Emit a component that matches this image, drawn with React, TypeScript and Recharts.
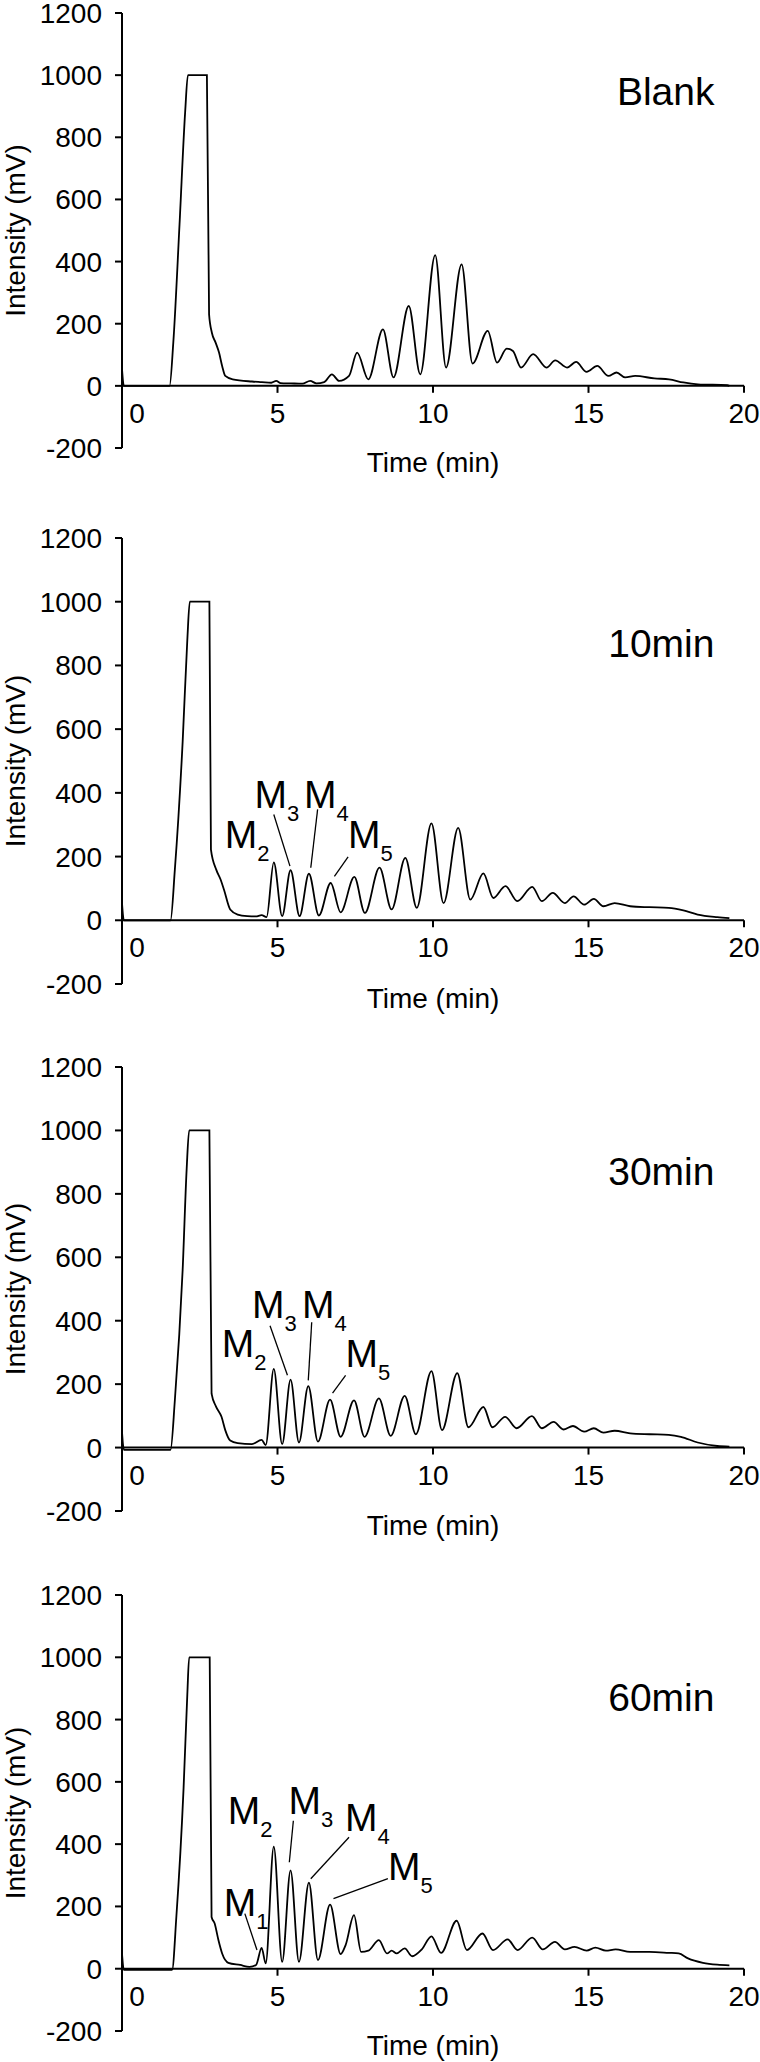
import React from "react";
import { LineChart, Line, XAxis, YAxis, ReferenceLine, ReferenceDot } from "recharts";

const FONT = '"Liberation Sans", Arial, Helvetica, sans-serif';

type Pt = [number, number]; // [time (min), intensity (mV)]

// chromatogram traces
const blank: Pt[] = [
  [0, 55], [0.06, 0], [1.53, 0], [1.65, 140], [1.85, 520], [2.03, 880], [2.12, 1000],
  [2.73, 1000], [2.8, 230], [2.89, 171], [3.01, 139], [3.12, 107], [3.22, 64], [3.32, 32],
  [3.56, 21], [4.18, 14], [4.5, 12], [4.8, 10], [4.96, 16], [5.1, 9], [5.43, 8], [5.8, 7],
  [6.05, 16], [6.25, 8], [6.5, 12], [6.75, 37], [6.98, 16], [7.3, 32], [7.56, 107],
  [7.92, 21], [8.39, 182], [8.73, 27], [9.22, 257], [9.59, 37], [10.07, 421], [10.42, 59],
  [10.92, 391], [11.27, 72], [11.76, 177], [12.06, 75], [12.37, 120], [12.57, 112],
  [12.83, 59], [13.22, 102], [13.65, 59], [13.93, 82], [14.31, 59], [14.6, 77], [14.94, 45],
  [15.28, 64], [15.64, 32], [15.9, 43], [16.18, 27], [16.5, 32], [17.12, 24], [17.59, 21],
  [18.05, 11], [18.52, 5], [19.46, 2], [19.53, 0],
];

const min10: Pt[] = [
  [0, 54], [0.06, 0], [1.56, 0], [1.7, 160], [1.95, 560], [2.1, 880], [2.18, 1000],
  [2.81, 1000], [2.86, 222], [3.03, 159], [3.17, 128], [3.28, 96], [3.48, 34], [3.72, 18],
  [4.03, 13], [4.3, 12], [4.49, 16], [4.65, 10], [4.88, 182], [5.15, 13], [5.42, 157],
  [5.71, 13], [6.01, 146], [6.33, 15], [6.71, 117], [7.03, 25], [7.47, 136], [7.81, 23],
  [8.28, 165], [8.67, 34], [9.11, 196], [9.48, 39], [9.95, 304], [10.34, 54], [10.81, 290],
  [11.2, 65], [11.62, 147], [11.94, 70], [12.33, 107], [12.71, 60], [13.19, 105], [13.5, 60],
  [13.85, 86], [14.24, 54], [14.52, 75], [14.86, 49], [15.17, 67], [15.48, 44], [15.84, 54],
  [16.34, 44], [16.96, 41], [17.58, 39], [18.05, 31], [18.51, 18], [19.14, 10], [19.53, 7],
];

const min30: Pt[] = [
  [0, 50], [0.06, -7], [1.56, -7], [1.7, 150], [1.95, 560], [2.08, 880], [2.16, 1000],
  [2.81, 1000], [2.88, 170], [3.02, 130], [3.2, 97], [3.32, 55], [3.48, 22], [3.72, 14],
  [4.18, 11], [4.49, 24], [4.62, 8], [4.88, 248], [5.15, 11], [5.42, 214], [5.69, 16],
  [5.99, 194], [6.3, 19], [6.69, 151], [7.03, 34], [7.46, 149], [7.8, 34], [8.26, 155],
  [8.64, 37], [9.09, 163], [9.45, 42], [9.95, 241], [10.29, 55], [10.78, 235], [11.14, 64],
  [11.62, 128], [11.91, 64], [12.32, 97], [12.69, 61], [13.18, 99], [13.5, 61], [13.88, 81],
  [14.19, 57], [14.5, 68], [14.86, 50], [15.17, 61], [15.48, 47], [15.84, 53], [16.34, 45],
  [16.96, 42], [17.58, 40], [17.97, 34], [18.51, 16], [19.14, 5], [19.53, 3],
];

const min60: Pt[] = [
  [0, 49], [0.06, -4], [1.61, -4], [1.75, 170], [1.98, 580], [2.1, 880], [2.16, 1000],
  [2.82, 1000], [2.88, 166], [2.98, 145], [3.1, 92], [3.22, 49], [3.42, 19], [3.8, 12],
  [4.1, 6], [4.31, 12], [4.49, 67], [4.62, 17], [4.88, 392], [5.15, 22], [5.42, 316],
  [5.69, 22], [6.01, 276], [6.3, 28], [6.69, 206], [7.03, 47], [7.19, 76], [7.46, 172],
  [7.69, 54], [7.92, 58], [8.26, 92], [8.52, 49], [8.67, 58], [8.83, 49], [9.09, 65],
  [9.33, 40], [9.64, 62], [9.95, 104], [10.26, 51], [10.76, 154], [11.09, 60], [11.59, 113],
  [11.93, 60], [12.4, 94], [12.72, 60], [13.19, 100], [13.53, 62], [13.92, 86], [14.24, 62],
  [14.55, 70], [14.94, 58], [15.22, 68], [15.56, 58], [15.87, 62], [16.34, 54], [16.96, 54],
  [17.58, 51], [17.9, 49], [18.2, 33], [18.68, 19], [19.14, 13], [19.53, 11],
];

const xTicks = [0, 5, 10, 15, 20];
const yTicks = [-200, 0, 200, 400, 600, 800, 1000, 1200];

// peak labels: subscript, [time, intensity] of text baseline start
type Tag = { n: string; at: Pt };
type Leader = [Pt, Pt];

const min10Tags: Tag[] = [
  { n: "2", at: [3.3, 227] },
  { n: "3", at: [4.26, 353] },
  { n: "4", at: [5.85, 353] },
  { n: "5", at: [7.27, 227] },
];
const min10Leaders: Leader[] = [
  [[4.88, 332], [5.4, 170]],
  [[6.29, 348], [6.07, 165]],
  [[7.27, 199], [6.83, 138]],
];

const min30Tags: Tag[] = [
  { n: "2", at: [3.21, 285] },
  { n: "3", at: [4.18, 410] },
  { n: "4", at: [5.79, 410] },
  { n: "5", at: [7.19, 254] },
];
const min30Leaders: Leader[] = [
  [[4.76, 384], [5.32, 228]],
  [[6.1, 395], [5.99, 212]],
  [[7.19, 228], [6.77, 172]],
];

const min60Tags: Tag[] = [
  { n: "1", at: [3.27, 170] },
  { n: "2", at: [3.4, 465] },
  { n: "3", at: [5.35, 497] },
  { n: "4", at: [7.17, 443] },
  { n: "5", at: [8.55, 284] },
];
const min60Leaders: Leader[] = [
  [[3.95, 177], [4.34, 60]],
  [[5.51, 475], [5.38, 342]],
  [[7.3, 422], [6.07, 289]],
  [[8.55, 289], [6.8, 225]],
];

const panels = [
  { title: "Blank", data: blank, titleAt: [19.05, 905] as Pt, tags: [] as Tag[], leaders: [] as Leader[], top: 13, bottom: 448 },
  { title: "10min", data: min10, titleAt: [19.05, 828] as Pt, tags: min10Tags, leaders: min10Leaders, top: 538, bottom: 984 },
  { title: "30min", data: min30, titleAt: [19.05, 828] as Pt, tags: min30Tags, leaders: min30Leaders, top: 1067, bottom: 1511 },
  { title: "60min", data: min60, titleAt: [19.05, 827] as Pt, tags: min60Tags, leaders: min60Leaders, top: 1595, bottom: 2031 },
];

const PAD_TOP = 22;
const X_AXIS_H = 40;

function Panel({ p }: { p: (typeof panels)[number] }) {
  const plotH = p.bottom - p.top;
  const zeroOff = (plotH * 200) / 1400; // px between plot bottom and the 0 line
  const data = p.data.map(([t, v]) => ({ t, v }));
  const height = plotH + PAD_TOP + X_AXIS_H;

  const xTick = (props: any) => {
    const { x, y, payload } = props;
    const zy = y - zeroOff;
    const isZero = payload.value === 0;
    return (
      <g>
        {!isZero && <line x1={x} x2={x} y1={zy} y2={zy + 7} stroke="#000" strokeWidth={2} />}
        <text x={x + (isZero ? 15 : 0)} y={zy + 37} textAnchor="middle" fontSize={28} fontFamily={FONT} fill="#000">
          {payload.value}
        </text>
      </g>
    );
  };

  return (
    <div style={{ position: "absolute", left: 0, top: p.top - PAD_TOP }}>
      <LineChart width={760} height={height} data={data} margin={{ top: PAD_TOP, right: 16, bottom: 0, left: 0 }}>
        <XAxis
          dataKey="t"
          type="number"
          domain={[0, 20]}
          ticks={xTicks}
          interval={0}
          allowDataOverflow
          axisLine={false}
          tickLine={false}
          tickSize={0}
          tickMargin={0}
          height={X_AXIS_H}
          tick={xTick}
          label={() => (
            <text x={122 + 311} y={PAD_TOP + plotH + 24} textAnchor="middle" fontSize={28} fontFamily={FONT} fill="#000">
              Time (min)
            </text>
          )}
        />
        <YAxis
          type="number"
          domain={[-200, 1200]}
          ticks={yTicks}
          interval={0}
          width={122}
          tickSize={7}
          tickMargin={13}
          axisLine={{ stroke: "#000", strokeWidth: 2 }}
          tickLine={{ stroke: "#000", strokeWidth: 2 }}
          tick={{ fill: "#000", fontSize: 28, fontFamily: FONT }}
          label={() => (
            <text
              x={15}
              y={PAD_TOP + plotH / 2}
              transform={`rotate(-90, 15, ${PAD_TOP + plotH / 2})`}
              textAnchor="middle"
              dominantBaseline="central"
              fontSize={28}
              fontFamily={FONT}
              fill="#000"
            >
              Intensity (mV)
            </text>
          )}
        />
        <ReferenceLine y={0} stroke="#000" strokeWidth={2} />
        <Line
          type="monotone"
          dataKey="v"
          stroke="#000"
          strokeWidth={1.8}
          dot={false}
          activeDot={false}
          isAnimationActive={false}
        />
        {p.leaders.map((seg, i) => (
          <ReferenceLine
            key={`l${i}`}
            segment={[
              { x: seg[0][0], y: seg[0][1] },
              { x: seg[1][0], y: seg[1][1] },
            ]}
            stroke="#000"
            strokeWidth={1.3}
            ifOverflow="visible"
          />
        ))}
        {p.tags.map((tag, i) => (
          <ReferenceDot
            key={`m${i}`}
            x={tag.at[0]}
            y={tag.at[1]}
            r={0}
            ifOverflow="visible"
            shape={(s: any) => (
              <text x={s.cx} y={s.cy} fontSize={39} fontFamily={FONT} fill="#000">
                M
                <tspan fontSize={22} dy={13}>
                  {tag.n}
                </tspan>
              </text>
            )}
          />
        ))}
        <ReferenceDot
          x={p.titleAt[0]}
          y={p.titleAt[1]}
          r={0}
          ifOverflow="visible"
          shape={(s: any) => (
            <text x={s.cx} y={s.cy} textAnchor="end" fontSize={39} fontFamily={FONT} fill="#000">
              {p.title}
            </text>
          )}
        />
      </LineChart>
    </div>
  );
}

export default function App() {
  return (
    <div
      style={{
        position: "absolute",
        left: 0,
        top: 0,
        width: 760,
        height: 2062,
        overflow: "hidden",
        background: "#fff",
        fontFamily: FONT,
      }}
    >
      {panels.map((p) => (
        <Panel key={p.title} p={p} />
      ))}
    </div>
  );
}
